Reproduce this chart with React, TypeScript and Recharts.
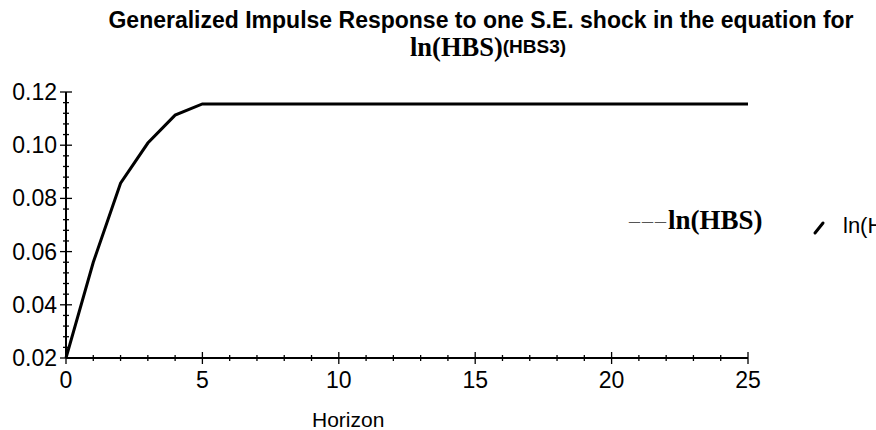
import { LineChart, Line, XAxis, YAxis } from "recharts";

// horizon steps and the impulse response
const horizon = [0, 1, 2, 3, 4, 5, 6, 7, 8, 9, 10, 11, 12, 13, 14, 15, 16, 17, 18, 19, 20, 21, 22, 23, 24, 25];
const response = [
  0.02, 0.056, 0.0857, 0.1008, 0.1113, 0.1155, 0.1155, 0.1155, 0.1155, 0.1155,
  0.1155, 0.1155, 0.1155, 0.1155, 0.1155, 0.1155, 0.1155, 0.1155, 0.1155, 0.1155,
  0.1155, 0.1155, 0.1155, 0.1155, 0.1155, 0.1155,
];

const xTicks = [0, 1, 2, 3, 4, 5, 6, 7, 8, 9, 10, 11, 12, 13, 14, 15, 16, 17, 18, 19, 20, 21, 22, 23, 24, 25];
const xMajor = [0, 5, 10, 15, 20, 25];
const xLabels = ["0", "5", "10", "15", "20", "25"];

const yTicks = [
  0.02, 0.024, 0.028, 0.032, 0.036, 0.04, 0.044, 0.048, 0.052, 0.056, 0.06, 0.064, 0.068,
  0.072, 0.076, 0.08, 0.084, 0.088, 0.092, 0.096, 0.1, 0.104, 0.108, 0.112, 0.116, 0.12,
];
const yMajor = [0.02, 0.04, 0.06, 0.08, 0.1, 0.12];
const yLabels = ["0.02", "0.04", "0.06", "0.08", "0.10", "0.12"];

const data = horizon.map((h, i) => ({ h, v: response[i] }));

const SANS = "'Liberation Sans', Arial, sans-serif";
const SERIF = "'Liberation Serif', 'Times New Roman', serif";

function findMajor(list: number[], v: number) {
  return list.findIndex((m) => Math.abs(m - v) < 1e-9);
}

function XTick(props: any) {
  const { x, y, payload } = props;
  const idx = findMajor(xMajor, payload.value);
  const len = idx >= 0 ? 6 : 3;
  return (
    <g>
      <line x1={x} x2={x} y1={y - len} y2={y + len} stroke="#000" strokeWidth={1.3} />
      {idx >= 0 && (
        <text x={x} y={y + 30} textAnchor="middle" fontFamily={SANS} fontSize={23} fill="#000">
          {xLabels[idx]}
        </text>
      )}
    </g>
  );
}

function YTick(props: any) {
  const { x, y, payload } = props;
  const idx = findMajor(yMajor, payload.value);
  const len = idx >= 0 ? 6 : 3;
  return (
    <g>
      <line x1={x - len} x2={x + len} y1={y} y2={y} stroke="#000" strokeWidth={1.3} />
      {idx >= 0 && (
        <text x={x - 9} y={y + 8} textAnchor="end" fontFamily={SANS} fontSize={23} fill="#000">
          {yLabels[idx]}
        </text>
      )}
    </g>
  );
}

export default function App() {
  return (
    <div
      style={{
        position: "absolute",
        left: 0,
        top: 0,
        width: 876,
        height: 430,
        background: "#fff",
        overflow: "hidden",
      }}
    >
      <LineChart
        width={876}
        height={430}
        data={data}
        margin={{ top: 92, right: 128, bottom: 32, left: 0 }}
      >
        <XAxis
          dataKey="h"
          type="number"
          domain={[0, 25]}
          ticks={xTicks}
          interval={0}
          tickSize={0}
          tickMargin={0}
          tickLine={false}
          tick={<XTick />}
          height={40}
          axisLine={{ stroke: "#000", strokeWidth: 1.8 }}
        />
        <YAxis
          type="number"
          domain={[0.02, 0.12]}
          ticks={yTicks}
          interval={0}
          tickSize={0}
          tickMargin={0}
          tickLine={false}
          tick={<YTick />}
          width={66}
          allowDataOverflow
          axisLine={{ stroke: "#000", strokeWidth: 2 }}
        />
        <Line
          type="linear"
          dataKey="v"
          stroke="#000"
          strokeWidth={3}
          dot={false}
          isAnimationActive={false}
        />
      </LineChart>
      <svg
        width={876}
        height={430}
        style={{ position: "absolute", left: 0, top: 0, pointerEvents: "none" }}
      >
        <text x={481} y={28} textAnchor="middle" fontFamily={SANS} fontWeight="bold" fontSize={23} fill="#000">
          Generalized Impulse Response to one S.E. shock in the equation for
        </text>
        <text x={410} y={56} fill="#000">
          <tspan fontFamily={SERIF} fontWeight="bold" fontSize={26.5}>ln(HBS)</tspan>
          <tspan fontFamily={SANS} fontWeight="bold" fontSize={19} dy={-3}>(HBS3)</tspan>
        </text>
        <text x={312} y={427} fontFamily={SANS} fontSize={21} fill="#000">
          Horizon
        </text>
        <text x={629} y={227.5} fontFamily={SERIF} fontSize={22} letterSpacing={2} fill="#555">
          –––
        </text>
        <text x={668} y={229} fontFamily={SERIF} fontWeight="bold" fontSize={27} fill="#000">
          ln(HBS)
        </text>
        <line x1={815} y1={233} x2={823} y2={223} stroke="#000" strokeWidth={3} strokeLinecap="round" />
        <text x={843} y={233} fontFamily={SANS} fontSize={22} fill="#000">
          ln(HBS)
        </text>
      </svg>
    </div>
  );
}
